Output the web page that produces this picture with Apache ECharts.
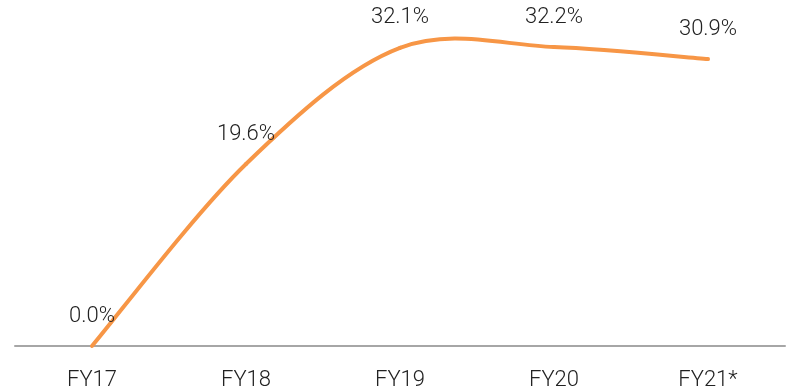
<!DOCTYPE html>
<html>
<head>
<meta charset="utf-8">
<script src="https://cdn.jsdelivr.net/npm/echarts@6/dist/echarts.min.js"></script>
<style>
  html, body { margin: 0; padding: 0; background: #ffffff; }
  #chart { width: 786px; height: 388px; }
</style>
</head>
<body>
<div id="chart"></div>
<script>
// Fiscal years shown along the bottom axis
const categories = ['FY17', 'FY18', 'FY19', 'FY20', 'FY21*'];
// Percentage values per year
const values = [0.0, 19.6, 32.1, 32.2, 30.9];

const LINE_COLOR = '#F79646';
const TEXT_COLOR = '#222222';
const FONT = '300 22px Roboto';

// Each item draws its value label and the smoothed (Catmull-Rom style)
// segment leading to the next year, with positions from the axes.
function renderItem(params, api) {
  const i = params.dataIndex;
  const n = values.length;
  const pt = k => api.coord([Math.max(0, Math.min(n - 1, k)), values[Math.max(0, Math.min(n - 1, k))]]);
  const p1 = pt(i);
  const children = [];
  if (i < n - 1) {
    const p0 = pt(i - 1);
    const p2 = pt(i + 1);
    const p3 = pt(i + 2);
    children.push({
      type: 'bezierCurve',
      shape: {
        x1: p1[0], y1: p1[1],
        cpx1: p1[0] + (p2[0] - p0[0]) / 6,
        cpy1: p1[1] + (p2[1] - p0[1]) / 6,
        cpx2: p2[0] - (p3[0] - p1[0]) / 6,
        cpy2: p2[1] - (p3[1] - p1[1]) / 6,
        x2: p2[0], y2: p2[1]
      },
      style: { stroke: LINE_COLOR, lineWidth: 4, lineCap: 'round', fill: null }
    });
  }
  children.push({
    type: 'text',
    style: {
      text: values[i].toFixed(1) + '%',
      x: p1[0],
      y: p1[1] - 30,
      align: 'center',
      verticalAlign: 'middle',
      fill: TEXT_COLOR,
      font: FONT
    }
  });
  return { type: 'group', children };
}

const chart = echarts.init(document.getElementById('chart'));
chart.setOption({
  animation: false,
  grid: { left: 15, right: 1, top: 21, bottom: 42, containLabel: false, outerBoundsMode: 'none' },
  xAxis: {
    type: 'category',
    data: categories,
    boundaryGap: true,
    axisLine: { show: true, lineStyle: { color: '#a6a6a6', width: 2 } },
    axisTick: { show: false },
    axisLabel: {
      color: TEXT_COLOR,
      fontFamily: 'Roboto',
      fontWeight: 300,
      fontSize: 22,
      margin: 23
    }
  },
  yAxis: {
    type: 'value',
    min: 0,
    max: 35,
    show: false,
    splitLine: { show: false }
  },
  series: [{
    type: 'custom',
    renderItem: renderItem,
    data: values.map((v, i) => [i, v]),
    encode: { x: 0, y: 1 }
  }]
});
</script>
</body>
</html>
